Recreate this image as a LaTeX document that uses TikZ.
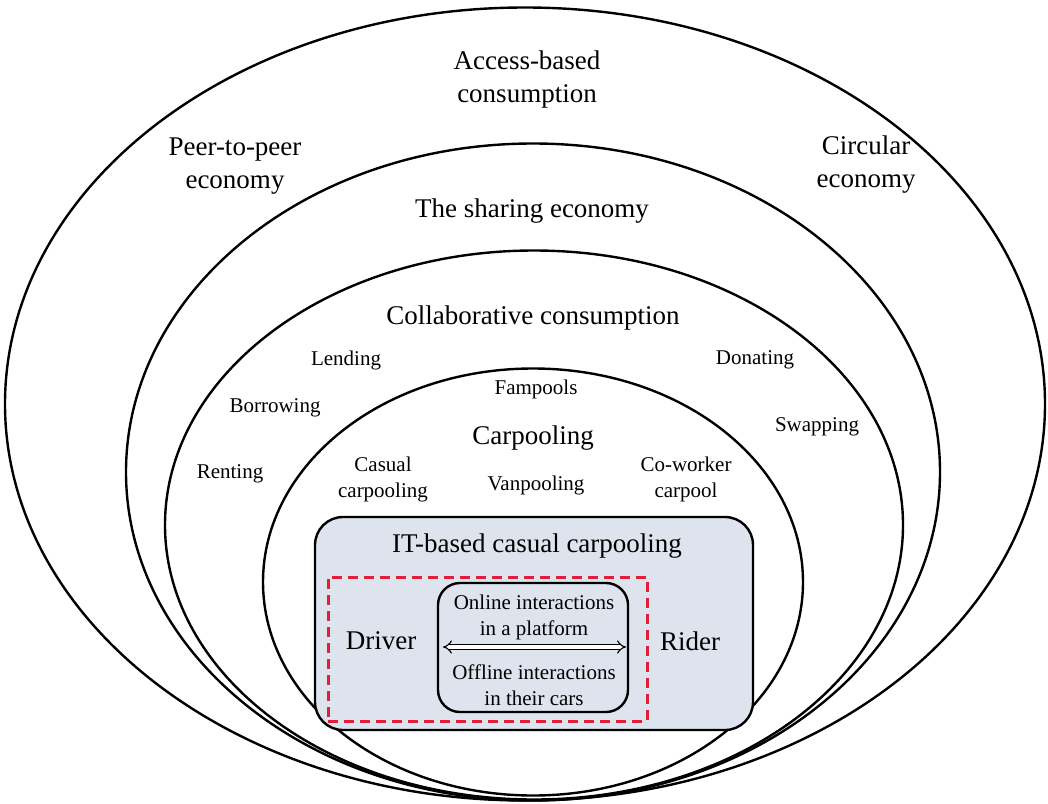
\documentclass[tikz,border=0pt]{standalone}
\usepackage{fontspec}
\setmainfont{Liberation Serif}
\usetikzlibrary{shapes.geometric,arrows.meta}
\definecolor{boxfill}{RGB}{221,228,238}
\definecolor{dashred}{RGB}{226,30,56}
\tikzset{
  ring/.style={draw=black, line width=2.4pt, ellipse, inner sep=0pt, outer sep=0pt},
  biglabel/.style={font=\fontsize{27}{33}\selectfont, align=center, inner sep=0pt},
  smalllabel/.style={font=\fontsize{21}{26}\selectfont, align=center, inner sep=0pt},
  panel/.style={draw=black, line width=2.4pt, fill=boxfill, rounded corners=28pt, inner sep=0pt},
  innerpanel/.style={draw=black, line width=2.4pt, fill=boxfill, rounded corners=22pt, inner sep=0pt},
  redframe/.style={draw=dashred, line width=3pt, dash pattern=on 10pt off 6pt, inner sep=0pt},
  twoway/.style={double=white, double distance=3.5pt, line width=1.1pt, {Implies[length=7pt]}-{Implies[length=7pt]}}
}
\begin{document}
\begin{tikzpicture}[x=1pt,y=-1pt]
\useasboundingbox (0,0) rectangle (1048,803);
\fill[white] (0,0) rectangle (1048,803);

% nested rings, all touching near the bottom edge
\node[ring, minimum width=1040pt, minimum height=793pt] (access) at (525,404) {};
\node[ring, minimum width=814pt, minimum height=657pt] (sharing) at (533,472) {};
\node[ring, minimum width=738pt, minimum height=549pt] (collab) at (534,525) {};
\node[ring, minimum width=540pt, minimum height=427pt] (carpool) at (533,582) {};

% ring titles
\node[biglabel] (tAccess) at (527,80) {Access-based\\consumption};
\node[biglabel] (tPeer) at (235,166) {Peer-to-peer\\economy};
\node[biglabel] (tCircular) at (866,165) {Circular\\economy};
\node[biglabel] (tSharing) at (532,211) {The sharing economy};
\node[biglabel] (tCollab) at (533,318) {Collaborative consumption};
\node[biglabel] (tCarpool) at (533,438) {Carpooling};

% collaborative consumption activities
\node[smalllabel] (lend) at (346,360) {Lending};
\node[smalllabel] (borrow) at (275,408) {Borrowing};
\node[smalllabel] (rent) at (230,474) {Renting};
\node[smalllabel] (donate) at (755,360) {Donating};
\node[smalllabel] (swap) at (817,427) {Swapping};

% carpooling forms
\node[smalllabel] (fam) at (536,389) {Fampools};
\node[smalllabel] (casual) at (383,479) {Casual\\carpooling};
\node[smalllabel] (van) at (536,485) {Vanpooling};
\node[smalllabel] (cowork) at (686,479) {Co-worker\\carpool};

% IT-based casual carpooling panel
\node[panel, minimum width=438pt, minimum height=213pt] (itbox) at (534,623.5) {};
\node[biglabel] (tIT) at (537,546) {IT-based casual carpooling};
\node[redframe, minimum width=319pt, minimum height=144pt] (frame) at (487.5,649) {};
\node[innerpanel, minimum width=190pt, minimum height=129pt] (inter) at (533,647.5) {};
\node[smalllabel] (online) at (534,617) {Online interactions\\in a platform};
\node[smalllabel] (offline) at (534,685) {Offline interactions\\in their cars};
\node[biglabel] (driver) at (381,641) {Driver};
\node[biglabel] (rider) at (690,641) {Rider};

\coordinate (arrL) at (443,647);
\coordinate (arrR) at (626,647);
\draw[twoway] (arrL) -- (arrR);
\end{tikzpicture}
\end{document}
